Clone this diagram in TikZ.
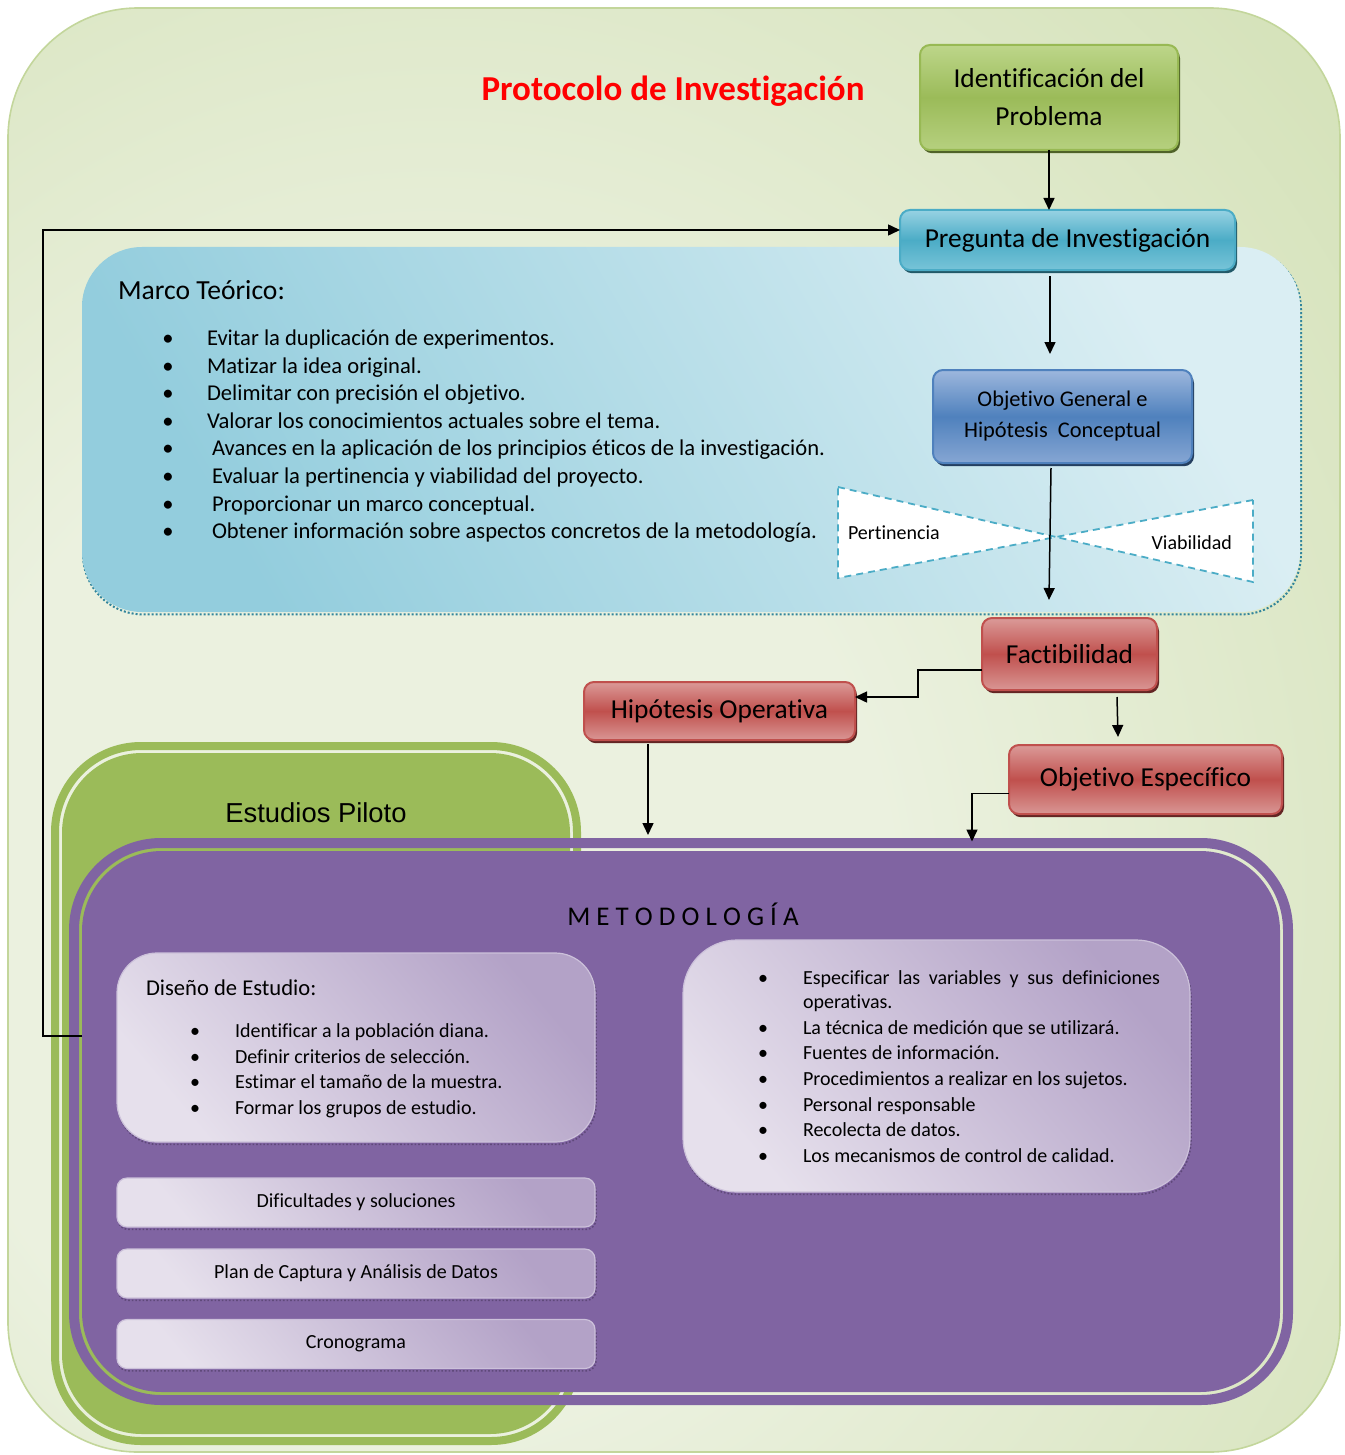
\documentclass[tikz,border=0pt]{standalone}
\usepackage{fontspec}
\setmainfont{Carlito}[Ligatures=NoCommon]
\newfontfamily\arialfont{Liberation Sans}
\usetikzlibrary{positioning,arrows.meta,shadows}

\definecolor{cBgIn}{HTML}{EBF1DF}
\definecolor{cBgOut}{HTML}{C3D69B}
\definecolor{cBgEdge}{HTML}{C3D69B}
\definecolor{cGreenTop}{HTML}{BDD68A}
\definecolor{cGreenMid}{HTML}{9BBB59}
\definecolor{cGreenBot}{HTML}{B6D07F}
\definecolor{cGreenEdge}{HTML}{98B954}
\definecolor{cGreenShd}{HTML}{4F6228}
\definecolor{cCyanTop}{HTML}{97D2E3}
\definecolor{cCyanMid}{HTML}{4BACC6}
\definecolor{cCyanBot}{HTML}{78C4D8}
\definecolor{cCyanShd}{HTML}{215968}
\definecolor{cBlueTop}{HTML}{9DB7DD}
\definecolor{cBlueMid}{HTML}{4F81BD}
\definecolor{cBlueBot}{HTML}{86A6D3}
\definecolor{cBlueShd}{HTML}{243F60}
\definecolor{cRedTop}{HTML}{DB9A98}
\definecolor{cRedMid}{HTML}{C0504D}
\definecolor{cRedBot}{HTML}{D99694}
\definecolor{cRedShd}{HTML}{632523}
\definecolor{cLavDark}{HTML}{B3A2C7}
\definecolor{cLavLight}{HTML}{E6E0EC}
\definecolor{cLavEdge}{HTML}{CCC1DA}
\definecolor{cLavShd}{HTML}{5F497A}
\definecolor{cPurple}{HTML}{8064A2}
\definecolor{cMarcoDark}{HTML}{93CDDD}
\definecolor{cMarcoLight}{HTML}{DAEEF3}
\definecolor{cTeal}{HTML}{31859C}
\definecolor{cTitle}{HTML}{FF0000}

\pgfdeclareradialshading{bgshade}{\pgfpoint{-12bp}{-8bp}}{color(0bp)=(cBgIn); color(18bp)=(cBgIn); color(62bp)=(cBgOut); color(100bp)=(cBgOut)}

\newcommand\sizeTitle{\fontsize{17.5pt}{21pt}\selectfont}
\newcommand\sizeBox{\fontsize{13.7pt}{19pt}\selectfont}
\newcommand\sizeObj{\fontsize{11.2pt}{15.5pt}\selectfont}
\newcommand\sizeList{\fontsize{11.3pt}{13.8pt}\selectfont}
\newcommand\sizeSmall{\fontsize{10pt}{12.5pt}\selectfont}
\newcommand\sizeMetod{\fontsize{13.5pt}{16pt}\selectfont}

\begin{document}
\begin{tikzpicture}
[x=0.5pt, y=-0.5pt,
every node/.style={inner sep=0pt, outer sep=0pt},
arr/.style={-{Triangle[length=6pt,width=5.5pt]}, line width=0.75pt},
box/.style={rectangle, rounded corners=5pt, line width=1pt, align=center, text=black},
greenbox/.style={box, draw=cGreenEdge, top color=cGreenTop, bottom color=cGreenBot, middle color=cGreenMid,
  drop shadow={shadow xshift=1pt, shadow yshift=-1.6pt, fill=cGreenShd, opacity=1}},
cyanbox/.style={box, draw=cCyanMid, top color=cCyanTop, bottom color=cCyanBot, middle color=cCyanMid,
  drop shadow={shadow xshift=1pt, shadow yshift=-1.6pt, fill=cCyanShd, opacity=1}},
bluebox/.style={box, draw=cBlueMid, top color=cBlueTop, bottom color=cBlueBot, middle color=cBlueMid,
  drop shadow={shadow xshift=1pt, shadow yshift=-1.6pt, fill=cBlueShd, opacity=1}},
redbox/.style={box, draw=cRedMid, top color=cRedTop, bottom color=cRedBot, middle color=cRedMid,
  drop shadow={shadow xshift=1pt, shadow yshift=-1.6pt, fill=cRedShd, opacity=1}},
lavbox/.style={rectangle, draw=cLavEdge, line width=.6pt, top color=cLavDark, bottom color=cLavLight, shading angle=-50,
  general shadow={shadow xshift=.5pt, shadow yshift=-1.2pt, draw=cLavShd, densely dotted, line width=.8pt}},
txt/.style={anchor=west, text height=2.05ex, text depth=.25ex},
dot/.style={text height=2.05ex, text depth=.25ex}]

\useasboundingbox (0,0) rectangle (1344,1455);

% background
\shade[shading=bgshade, draw=cBgEdge, line width=.8pt, rounded corners=65pt] (8,8) rectangle (1340,1452);

% title
\node[font=\sizeTitle\bfseries, text=cTitle] (title) at (673,91) {Protocolo de Investigación};

% marco teorico
\node[rectangle, rounded corners=30pt, minimum width=609pt, minimum height=182.5pt,
  top color=cMarcoLight, bottom color=cMarcoDark, shading angle=-60,
  general shadow={shadow xshift=.5pt, shadow yshift=-1.2pt, draw=cTeal, densely dotted, line width=1pt}]
  (marco) at (691,429.5) {};
\node[txt, font=\fontsize{13.8pt}{16pt}\selectfont] (marcotit) at (118,291) {Marco Teórico:};
\foreach \yy/\xx/\entry in {337/207/{Evitar la duplicación de experimentos.},
  365/207/{Matizar la idea original.},
  392/207/{Delimitar con precisión el objetivo.},
  420/207/{Valorar los conocimientos actuales sobre el tema.},
  447/212/{Avances en la aplicación de los principios éticos de la investigación.},
  475/212/{Evaluar la pertinencia y viabilidad del proyecto.},
  503/212/{Proporcionar un marco conceptual.},
  530/212/{Obtener información sobre aspectos concretos de la metodología.}}
{
  \node[dot, font=\sizeList] (mb\yy) at (168,\yy) {\textbullet};
  \node[txt, font=\sizeList] (mt\yy) at (\xx,\yy) {\entry};
}

% pertinencia / viabilidad
\filldraw[fill=white, draw=cCyanMid, line width=.9pt, dash pattern=on 3.5pt off 2.5pt]
  (838,487) -- (1056,537) -- (838,578) -- cycle
  (1253,500) -- (1056,537) -- (1253,582) -- cycle;
\node[txt, font=\sizeSmall] (pert) at (848,531) {Pertinencia};
\node[txt, anchor=east, font=\sizeSmall] (viab) at (1232,541) {Viabilidad};

% top boxes
\node[greenbox, minimum width=129pt, minimum height=52.5pt, font=\sizeBox] (ident) at (1049,97.5) {Identificación del\\Problema};
\node[cyanbox, minimum width=167.5pt, minimum height=30pt, font=\sizeBox] (preg) at (1067.5,240) {Pregunta de Investigación};
\node[bluebox, minimum width=129.5pt, minimum height=46.5pt, font=\sizeObj] (objgen) at (1062.5,416.5) {Objetivo General e\\Hipótesis\ \ Conceptual};
\node[redbox, minimum width=87.5pt, minimum height=36pt, font=\sizeBox] (fact) at (1069.5,654) {Factibilidad};
\node[redbox, minimum width=135.5pt, minimum height=29pt, font=\sizeBox] (hipop) at (719.5,711) {Hipótesis Operativa};
\node[redbox, minimum width=136.5pt, minimum height=34.5pt, font=\sizeBox] (objesp) at (1145.5,779.5) {Objetivo Específico};

% estudios piloto
\node[minimum width=265pt, minimum height=351.5pt] (piloto) at (316,1093.5) {};
\fill[cGreenMid, even odd rule] [rounded corners=45pt] (piloto.north west) rectangle (piloto.south east)
  [rounded corners=41pt] ([shift={(4pt,-4pt)}]piloto.north west) rectangle ([shift={(-4pt,4pt)}]piloto.south east);
\fill[cGreenMid, rounded corners=40pt] ([shift={(5.5pt,-5.5pt)}]piloto.north west) rectangle ([shift={(-5.5pt,5.5pt)}]piloto.south east);
\node[font=\arialfont\fontsize{13.7pt}{16pt}\selectfont] (pilototit) at (316,813) {Estudios Piloto};

% metodologia
\node[minimum width=612pt, minimum height=283.5pt] (metod) at (681,1121.5) {};
\fill[cPurple, even odd rule] [rounded corners=46pt] (metod.north west) rectangle (metod.south east)
  [rounded corners=41pt] ([shift={(5pt,-5pt)}]metod.north west) rectangle ([shift={(-5pt,5pt)}]metod.south east);
\fill[cPurple, rounded corners=40pt] ([shift={(6.5pt,-6.5pt)}]metod.north west) rectangle ([shift={(-6.5pt,6.5pt)}]metod.south east);
\node[font=\sizeMetod] (metodtit) at (683,914) {M E T O D O L O G Í A};

% diseno de estudio
\node[lavbox, rounded corners=20pt, minimum width=239pt, minimum height=94.5pt] (diseno) at (356,1047.5) {};
\node[txt, font=\sizeList] (disenotit) at (146,987) {Diseño de Estudio:};
\foreach \yy/\entry in {1029/{Identificar a la población diana.},
  1055/{Definir criterios de selección.},
  1080/{Estimar el tamaño de la muestra.},
  1106/{Formar los grupos de estudio.}}
{
  \node[dot, font=\sizeSmall] (db\yy) at (195,\yy) {\textbullet};
  \node[txt, font=\sizeSmall] (dt\yy) at (235,\yy) {\entry};
}

% lista de metodologia
\node[lavbox, rounded corners=27pt, minimum width=253.5pt, minimum height=126pt] (metlist) at (936.5,1066) {};
\node[dot, font=\sizeSmall] (lb976) at (763,976) {\textbullet};
\node[txt, font=\sizeSmall] (lt976) at (803,976) {\makebox[178.5pt][s]{Especificar las variables y sus definiciones}};
\node[txt, font=\sizeSmall] (lt1000) at (803,1000) {operativas.};
\foreach \yy/\entry in {1026/{La técnica de medición que se utilizará.},
  1051/{Fuentes de información.},
  1077/{Procedimientos a realizar en los sujetos.},
  1103/{Personal responsable},
  1128/{Recolecta de datos.},
  1154/{Los mecanismos de control de calidad.}}
{
  \node[dot, font=\sizeSmall] (lb\yy) at (763,\yy) {\textbullet};
  \node[txt, font=\sizeSmall] (lt\yy) at (803,\yy) {\entry};
}

% small boxes
\node[lavbox, rounded corners=5pt, minimum width=239pt, minimum height=24.5pt, font=\sizeSmall] (dific) at (356,1202.5) {Dificultades y soluciones};
\node[lavbox, rounded corners=5pt, minimum width=239pt, minimum height=24.5pt, font=\sizeSmall] (plan) at (356,1273.5) {Plan de Captura y Análisis de Datos};
\node[lavbox, rounded corners=5pt, minimum width=239pt, minimum height=24.5pt, font=\sizeSmall] (crono) at (356,1344) {Cronograma};

% arrows
\draw[arr] (ident.south) -- (ident.south |- preg.north);
\draw[arr] (ident.south |- preg.south) ++(1,6) -- ++(0,78);
\draw[arr] (objgen.south) ++(-11.5,5) -- ++(-2,132);
\draw[arr] ([yshift=-8pt]fact.west) -- ++(-64,0) |- ([yshift=7pt]hipop.east);
\draw[arr] (fact.south) ++(47.5,7) -- ++(1,40);
\draw[arr] (hipop.south) ++(-71.5,4) -- ++(0,91);
\draw[arr] ([yshift=-7pt]objesp.west) -- ++(-37,0) -- ++(0,48);
\coordinate (fbstart) at (82,1036);
\draw[arr] (fbstart) -- ++(-39,0) |- ([yshift=5pt]preg.west);

\end{tikzpicture}
\end{document}
